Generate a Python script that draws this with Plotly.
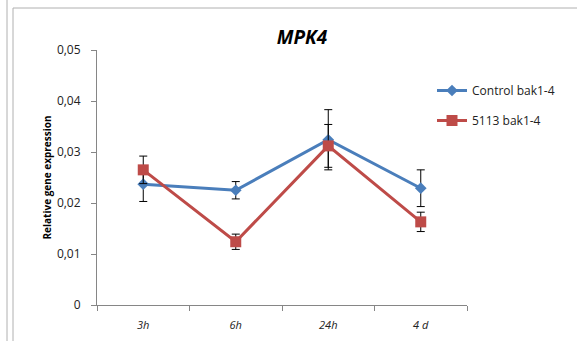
import plotly.graph_objects as go

categories = ["3h", "6h", "24h", "4 d"]
control = [0.0237, 0.0225, 0.0324, 0.0229]
control_err = [0.0034, 0.0017, 0.0059, 0.0036]
treated = [0.0265, 0.0124, 0.0312, 0.0163]
treated_err = [0.0027, 0.0015, 0.0042, 0.0019]
y_tickvals = [0, 0.01, 0.02, 0.03, 0.04, 0.05]
y_ticktext = ["0", "0,01", "0,02", "0,03", "0,04", "0,05"]

W, H = 577, 341
L, R, T, B = 97, 110, 50, 36
pw, ph = W - L - R, H - T - B

def px(x):
    return (x - L) / pw

def py(y):
    return (H - B - y) / ph

fig = go.Figure()
fig.add_trace(go.Scatter(
    x=categories, y=control, name="Control bak1-4", mode="lines+markers",
    line=dict(color="#4a7ebb", width=3),
    marker=dict(symbol="diamond", size=9, color="#4a7ebb"),
    error_y=dict(type="data", array=control_err, color="black", thickness=1, width=4),
    legendgroup="a",
))
fig.add_trace(go.Scatter(
    x=categories, y=treated, name="5113 bak1-4", mode="lines+markers",
    line=dict(color="#be4b48", width=3),
    marker=dict(symbol="square", size=11, color="#be4b48"),
    error_y=dict(type="data", array=treated_err, color="black", thickness=1, width=4),
    legendgroup="b",
))

grey = "#b0b0b0"
shapes = [
    dict(type="line", xref="paper", yref="paper", x0=px(7), x1=px(7), y0=py(0), y1=py(H), line=dict(color=grey, width=1)),
    dict(type="line", xref="paper", yref="paper", x0=px(13), x1=px(13), y0=py(8), y1=py(H), line=dict(color=grey, width=1)),
    dict(type="line", xref="paper", yref="paper", x0=px(13), x1=px(W), y0=py(8), y1=py(8), line=dict(color=grey, width=1)),
]

fig.update_layout(
    width=W, height=H,
    margin=dict(l=L, r=R, t=T, b=B, autoexpand=False),
    paper_bgcolor="white", plot_bgcolor="white",
    separators=", ",
    font=dict(family="Open Sans, Noto Sans, sans-serif", color="#222222", size=11),
    title=dict(text="<b><i>MPK4</i></b>", x=px(302), xanchor="center", xref="paper",
               y=1 - 37 / H, yanchor="middle", font=dict(size=19, color="black")),
    xaxis=dict(type="category", range=[-0.5, 3.5], showline=True, linecolor="#868686",
               ticks="outside", tickson="boundaries", ticklen=5, tickcolor="#868686",
               ticklabelstandoff=10, automargin=False,
               tickfont=dict(size=11, style="italic"), showgrid=False, zeroline=False),
    yaxis=dict(range=[0, 0.05], tickvals=y_tickvals, ticktext=y_ticktext, showline=True,
               linecolor="#868686", ticks="outside", ticklen=5, tickcolor="#868686",
               ticklabelstandoff=8, automargin=False,
               showgrid=False, zeroline=False, tickfont=dict(size=12),
               title=dict(text="<b>Relative gene expression</b>", font=dict(size=10, color="black"), standoff=3)),
    legend=dict(x=px(432), y=py(76), xanchor="left", yanchor="top", tracegroupgap=11,
                font=dict(size=12, color="#222222"), itemwidth=30, bgcolor="rgba(0,0,0,0)"),
    shapes=shapes,
    showlegend=True,
)

fig.write_html("out.html")
